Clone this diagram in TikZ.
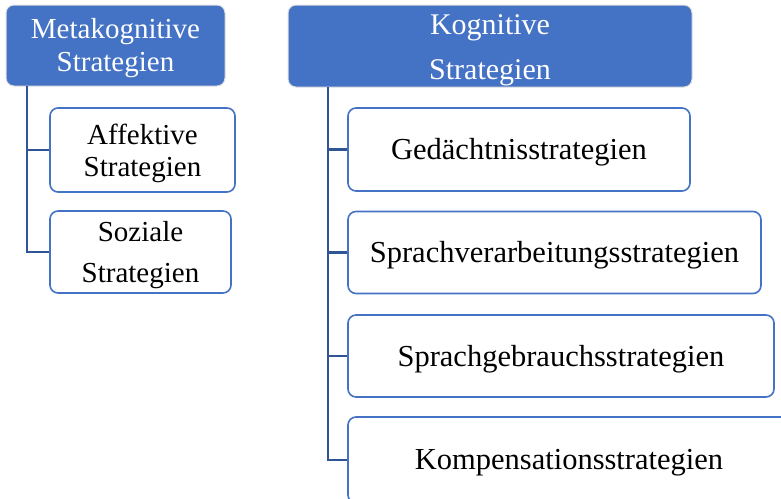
\documentclass[tikz,border=0pt]{standalone}
\usepackage{fontspec}
\setmainfont{Liberation Serif}
\definecolor{hdr}{HTML}{4472C4}
\definecolor{conn}{HTML}{2F5597}
\begin{document}
\begin{tikzpicture}[x=1pt,y=-1pt,
  header/.style={rectangle, rounded corners=8pt, fill=hdr, draw=gray!25, line width=1pt, inner sep=0pt},
  child/.style={rectangle, rounded corners=8pt, fill=white, draw=hdr, line width=1.6pt, inner sep=0pt},
  htext/.style={text=white, align=center, inner sep=0pt, yshift=-3pt},
  ctext/.style={text=black, align=center, inner sep=0pt, yshift=-3pt},
  connector/.style={draw=conn, line width=2.2pt}]
\useasboundingbox (0,0) rectangle (781,498);
\clip (0,0) rectangle (781,498);
% headers
\node[header, minimum width=219pt, minimum height=81pt] (meta) at (115.5,45.5) {};
\node[htext, font=\fontsize{29}{33}\selectfont] (metat) at (meta.center) {Metakognitive\\Strategien};
\node[header, minimum width=404pt, minimum height=82pt] (kog) at (490,46) {};
\node[htext, font=\fontsize{30}{45}\selectfont, yshift=-1pt] (kogt) at (kog.center) {Kognitive\\Strategien};
% trunk coordinates
\coordinate (mtrunk) at (27,86);
\coordinate (ktrunk) at (328,87);
% left children
\node[child, minimum width=185pt, minimum height=84pt] (aff) at (142.5,150) {};
\node[ctext, font=\fontsize{29}{32}\selectfont] (afft) at (aff.center) {Affektive\\Strategien};
\node[child, minimum width=181pt, minimum height=82pt] (soz) at (140.5,252) {};
\node[ctext, font=\fontsize{29}{41}\selectfont] (sozt) at (soz.center) {Soziale\\Strategien};
% right children
\node[child, minimum width=342pt, minimum height=83pt] (ged) at (519,149.5) {};
\node[ctext, font=\fontsize{30.5}{32}\selectfont] (gedt) at (ged.center) {Gedächtnisstrategien};
\node[child, minimum width=413pt, minimum height=82pt] (sva) at (554.5,252.5) {};
\node[ctext, font=\fontsize{30.5}{32}\selectfont] (svat) at (sva.center) {Sprachverarbeitungsstrategien};
\node[child, minimum width=426pt, minimum height=82pt] (sgb) at (561,356) {};
\node[ctext, font=\fontsize{30.5}{32}\selectfont] (sgbt) at (sgb.center) {Sprachgebrauchsstrategien};
\node[child, minimum width=442pt, minimum height=86pt] (komp) at (569,460) {};
\node[ctext, font=\fontsize{30.5}{32}\selectfont] (kompt) at (komp.center) {Kompensationsstrategien};
% connectors
\draw[connector] (mtrunk) |- (aff.west);
\draw[connector] (mtrunk) |- (soz.west);
\draw[connector] (ktrunk) |- (ged.west);
\draw[connector] (ktrunk) |- (sva.west);
\draw[connector] (ktrunk) |- (sgb.west);
\draw[connector] (ktrunk) |- (komp.west);
\end{tikzpicture}
\end{document}
